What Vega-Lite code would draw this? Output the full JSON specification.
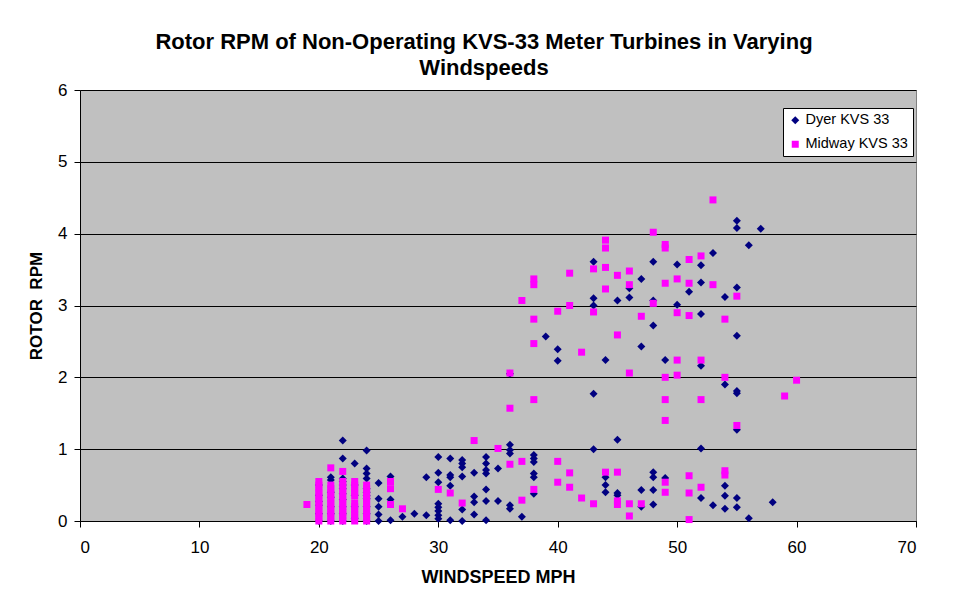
{
  "$schema": "https://vega.github.io/schema/vega-lite/v6.json",
  "autosize": "none",
  "width": 836,
  "height": 431,
  "padding": {"left": 80, "top": 90, "right": 58, "bottom": 87},
  "background": "white",
  "title": {
    "text": ["Rotor RPM of Non-Operating KVS-33 Meter Turbines in Varying", "Windspeeds"],
    "font": "Liberation Sans",
    "fontSize": 22,
    "fontWeight": "bold",
    "color": "black",
    "anchor": "middle",
    "dx": -14,
    "offset": 1,
    "lineHeight": 26
  },
  "config": {
    "view": {"fill": "#C0C0C0", "stroke": "#808080", "strokeWidth": 1},
    "axis": {
      "labelFont": "Liberation Sans",
      "labelFontSize": 17,
      "labelColor": "black",
      "titleFont": "Liberation Sans",
      "titleFontSize": 17,
      "titleFontWeight": "bold",
      "titleColor": "black",
      "domainColor": "black",
      "tickColor": "black",
      "tickSize": 6
    }
  },
  "data": {
    "values": [
      {"s":"D","x":20,"y":0.0},{"s":"D","x":20,"y":0.1},{"s":"D","x":20,"y":0.22},{"s":"D","x":20,"y":0.27},{"s":"D","x":20,"y":0.36},{"s":"D","x":20,"y":0.5},
      {"s":"D","x":21,"y":0.0},{"s":"D","x":21,"y":0.1},{"s":"D","x":21,"y":0.2},{"s":"D","x":21,"y":0.33},{"s":"D","x":21,"y":0.4},{"s":"D","x":21,"y":0.57},{"s":"D","x":21,"y":0.61},
      {"s":"D","x":22,"y":0.0},{"s":"D","x":22,"y":0.1},{"s":"D","x":22,"y":0.2},{"s":"D","x":22,"y":0.3},{"s":"D","x":22,"y":0.38},{"s":"D","x":22,"y":0.45},{"s":"D","x":22,"y":0.5},{"s":"D","x":22,"y":0.55},{"s":"D","x":22,"y":0.59},{"s":"D","x":22,"y":0.87},{"s":"D","x":22,"y":1.12},
      {"s":"D","x":23,"y":0.04},{"s":"D","x":23,"y":0.2},{"s":"D","x":23,"y":0.36},{"s":"D","x":23,"y":0.5},{"s":"D","x":23,"y":0.8},
      {"s":"D","x":24,"y":0.0},{"s":"D","x":24,"y":0.1},{"s":"D","x":24,"y":0.2},{"s":"D","x":24,"y":0.31},{"s":"D","x":24,"y":0.35},{"s":"D","x":24,"y":0.4},{"s":"D","x":24,"y":0.45},{"s":"D","x":24,"y":0.59},{"s":"D","x":24,"y":0.66},{"s":"D","x":24,"y":0.73},{"s":"D","x":24,"y":0.98},
      {"s":"D","x":25,"y":0.0},{"s":"D","x":25,"y":0.09},{"s":"D","x":25,"y":0.2},{"s":"D","x":25,"y":0.31},{"s":"D","x":25,"y":0.53},
      {"s":"D","x":26,"y":0.01},{"s":"D","x":26,"y":0.3},{"s":"D","x":26,"y":0.62},
      {"s":"D","x":27,"y":0.06},{"s":"D","x":28,"y":0.1},
      {"s":"D","x":29,"y":0.08},{"s":"D","x":29,"y":0.61},
      {"s":"D","x":30,"y":0.03},{"s":"D","x":30,"y":0.08},{"s":"D","x":30,"y":0.14},{"s":"D","x":30,"y":0.19},{"s":"D","x":30,"y":0.24},{"s":"D","x":30,"y":0.54},{"s":"D","x":30,"y":0.67},{"s":"D","x":30,"y":0.89},
      {"s":"D","x":31,"y":0.01},{"s":"D","x":31,"y":0.49},{"s":"D","x":31,"y":0.61},{"s":"D","x":31,"y":0.64},{"s":"D","x":31,"y":0.87},
      {"s":"D","x":32,"y":0.0},{"s":"D","x":32,"y":0.16},{"s":"D","x":32,"y":0.62},{"s":"D","x":32,"y":0.75},{"s":"D","x":32,"y":0.8},{"s":"D","x":32,"y":0.85},
      {"s":"D","x":33,"y":0.09},{"s":"D","x":33,"y":0.26},{"s":"D","x":33,"y":0.34},{"s":"D","x":33,"y":0.67},
      {"s":"D","x":34,"y":0.01},{"s":"D","x":34,"y":0.28},{"s":"D","x":34,"y":0.44},{"s":"D","x":34,"y":0.66},{"s":"D","x":34,"y":0.71},{"s":"D","x":34,"y":0.8},{"s":"D","x":34,"y":0.89},
      {"s":"D","x":35,"y":0.28},{"s":"D","x":35,"y":0.73},
      {"s":"D","x":36,"y":0.17},{"s":"D","x":36,"y":0.22},{"s":"D","x":36,"y":0.94},{"s":"D","x":36,"y":0.99},{"s":"D","x":36,"y":1.06},{"s":"D","x":36,"y":2.05},
      {"s":"D","x":37,"y":0.06},
      {"s":"D","x":38,"y":0.38},{"s":"D","x":38,"y":0.61},{"s":"D","x":38,"y":0.66},{"s":"D","x":38,"y":0.82},{"s":"D","x":38,"y":0.87},{"s":"D","x":38,"y":0.92},
      {"s":"D","x":39,"y":2.57},
      {"s":"D","x":40,"y":2.23},{"s":"D","x":40,"y":2.39},
      {"s":"D","x":43,"y":1.0},{"s":"D","x":43,"y":1.77},{"s":"D","x":43,"y":3.0},{"s":"D","x":43,"y":3.1},{"s":"D","x":43,"y":3.61},
      {"s":"D","x":44,"y":0.4},{"s":"D","x":44,"y":0.5},{"s":"D","x":44,"y":0.61},{"s":"D","x":44,"y":2.24},
      {"s":"D","x":45,"y":0.36},{"s":"D","x":45,"y":0.39},{"s":"D","x":45,"y":1.13},{"s":"D","x":45,"y":3.07},
      {"s":"D","x":46,"y":3.11},{"s":"D","x":46,"y":3.24},
      {"s":"D","x":47,"y":0.2},{"s":"D","x":47,"y":0.43},{"s":"D","x":47,"y":2.43},{"s":"D","x":47,"y":3.37},
      {"s":"D","x":48,"y":0.23},{"s":"D","x":48,"y":0.43},{"s":"D","x":48,"y":0.61},{"s":"D","x":48,"y":0.68},{"s":"D","x":48,"y":2.72},{"s":"D","x":48,"y":3.07},{"s":"D","x":48,"y":3.61},
      {"s":"D","x":49,"y":0.6},{"s":"D","x":49,"y":2.24},
      {"s":"D","x":50,"y":3.01},{"s":"D","x":50,"y":3.57},
      {"s":"D","x":51,"y":3.19},
      {"s":"D","x":52,"y":0.32},{"s":"D","x":52,"y":1.01},{"s":"D","x":52,"y":2.16},{"s":"D","x":52,"y":2.88},{"s":"D","x":52,"y":3.32},{"s":"D","x":52,"y":3.56},
      {"s":"D","x":53,"y":0.22},{"s":"D","x":53,"y":3.73},
      {"s":"D","x":54,"y":0.17},{"s":"D","x":54,"y":0.35},{"s":"D","x":54,"y":0.49},{"s":"D","x":54,"y":1.9},{"s":"D","x":54,"y":3.12},
      {"s":"D","x":55,"y":0.19},{"s":"D","x":55,"y":0.32},{"s":"D","x":55,"y":1.27},{"s":"D","x":55,"y":1.78},{"s":"D","x":55,"y":1.81},{"s":"D","x":55,"y":2.58},{"s":"D","x":55,"y":3.25},{"s":"D","x":55,"y":4.08},{"s":"D","x":55,"y":4.18},
      {"s":"D","x":56,"y":0.04},{"s":"D","x":56,"y":3.84},
      {"s":"D","x":57,"y":4.07},
      {"s":"D","x":58,"y":0.26},

      {"s":"M","x":19,"y":0.23},
      {"s":"M","x":20,"y":0.0},{"s":"M","x":20,"y":0.05},{"s":"M","x":20,"y":0.1},{"s":"M","x":20,"y":0.15},{"s":"M","x":20,"y":0.2},{"s":"M","x":20,"y":0.25},{"s":"M","x":20,"y":0.3},{"s":"M","x":20,"y":0.35},{"s":"M","x":20,"y":0.4},{"s":"M","x":20,"y":0.45},{"s":"M","x":20,"y":0.5},{"s":"M","x":20,"y":0.55},
      {"s":"M","x":21,"y":0.0},{"s":"M","x":21,"y":0.05},{"s":"M","x":21,"y":0.1},{"s":"M","x":21,"y":0.15},{"s":"M","x":21,"y":0.2},{"s":"M","x":21,"y":0.25},{"s":"M","x":21,"y":0.3},{"s":"M","x":21,"y":0.35},{"s":"M","x":21,"y":0.4},{"s":"M","x":21,"y":0.45},{"s":"M","x":21,"y":0.5},{"s":"M","x":21,"y":0.74},
      {"s":"M","x":22,"y":0.0},{"s":"M","x":22,"y":0.04},{"s":"M","x":22,"y":0.08},{"s":"M","x":22,"y":0.12},{"s":"M","x":22,"y":0.16},{"s":"M","x":22,"y":0.2},{"s":"M","x":22,"y":0.25},{"s":"M","x":22,"y":0.3},{"s":"M","x":22,"y":0.35},{"s":"M","x":22,"y":0.4},{"s":"M","x":22,"y":0.45},{"s":"M","x":22,"y":0.5},{"s":"M","x":22,"y":0.55},{"s":"M","x":22,"y":0.69},
      {"s":"M","x":23,"y":0.0},{"s":"M","x":23,"y":0.05},{"s":"M","x":23,"y":0.1},{"s":"M","x":23,"y":0.15},{"s":"M","x":23,"y":0.2},{"s":"M","x":23,"y":0.25},{"s":"M","x":23,"y":0.35},{"s":"M","x":23,"y":0.4},{"s":"M","x":23,"y":0.45},{"s":"M","x":23,"y":0.5},{"s":"M","x":23,"y":0.55},
      {"s":"M","x":24,"y":0.0},{"s":"M","x":24,"y":0.05},{"s":"M","x":24,"y":0.1},{"s":"M","x":24,"y":0.15},{"s":"M","x":24,"y":0.2},{"s":"M","x":24,"y":0.25},{"s":"M","x":24,"y":0.3},{"s":"M","x":24,"y":0.35},{"s":"M","x":24,"y":0.4},{"s":"M","x":24,"y":0.45},{"s":"M","x":24,"y":0.5},
      {"s":"M","x":26,"y":0.23},{"s":"M","x":26,"y":0.45},{"s":"M","x":26,"y":0.55},
      {"s":"M","x":27,"y":0.17},
      {"s":"M","x":30,"y":0.44},{"s":"M","x":31,"y":0.39},{"s":"M","x":32,"y":0.25},{"s":"M","x":33,"y":1.12},{"s":"M","x":35,"y":1.01},
      {"s":"M","x":36,"y":0.79},{"s":"M","x":36,"y":1.57},{"s":"M","x":36,"y":2.06},
      {"s":"M","x":37,"y":0.29},{"s":"M","x":37,"y":0.83},{"s":"M","x":37,"y":3.07},
      {"s":"M","x":38,"y":0.44},{"s":"M","x":38,"y":1.69},{"s":"M","x":38,"y":2.47},{"s":"M","x":38,"y":2.81},{"s":"M","x":38,"y":3.29},{"s":"M","x":38,"y":3.37},
      {"s":"M","x":40,"y":0.54},{"s":"M","x":40,"y":0.83},{"s":"M","x":40,"y":2.92},
      {"s":"M","x":41,"y":0.47},{"s":"M","x":41,"y":0.67},{"s":"M","x":41,"y":3.0},{"s":"M","x":41,"y":3.45},
      {"s":"M","x":42,"y":0.32},{"s":"M","x":42,"y":2.35},
      {"s":"M","x":43,"y":0.24},{"s":"M","x":43,"y":2.91},{"s":"M","x":43,"y":3.51},
      {"s":"M","x":44,"y":0.68},{"s":"M","x":44,"y":3.23},{"s":"M","x":44,"y":3.53},{"s":"M","x":44,"y":3.8},{"s":"M","x":44,"y":3.91},
      {"s":"M","x":45,"y":0.23},{"s":"M","x":45,"y":0.28},{"s":"M","x":45,"y":0.68},{"s":"M","x":45,"y":2.59},{"s":"M","x":45,"y":3.42},
      {"s":"M","x":46,"y":0.07},{"s":"M","x":46,"y":0.24},{"s":"M","x":46,"y":2.06},{"s":"M","x":46,"y":3.29},{"s":"M","x":46,"y":3.48},
      {"s":"M","x":47,"y":0.24},{"s":"M","x":47,"y":2.85},
      {"s":"M","x":48,"y":3.03},{"s":"M","x":48,"y":4.02},
      {"s":"M","x":49,"y":0.4},{"s":"M","x":49,"y":0.54},{"s":"M","x":49,"y":1.4},{"s":"M","x":49,"y":1.69},{"s":"M","x":49,"y":2.0},{"s":"M","x":49,"y":3.31},{"s":"M","x":49,"y":3.8},{"s":"M","x":49,"y":3.85},
      {"s":"M","x":50,"y":2.03},{"s":"M","x":50,"y":2.24},{"s":"M","x":50,"y":2.9},{"s":"M","x":50,"y":3.37},
      {"s":"M","x":51,"y":0.02},{"s":"M","x":51,"y":0.39},{"s":"M","x":51,"y":0.63},{"s":"M","x":51,"y":2.86},{"s":"M","x":51,"y":3.31},{"s":"M","x":51,"y":3.64},
      {"s":"M","x":52,"y":0.47},{"s":"M","x":52,"y":1.69},{"s":"M","x":52,"y":2.24},{"s":"M","x":52,"y":3.69},
      {"s":"M","x":53,"y":3.29},{"s":"M","x":53,"y":4.47},
      {"s":"M","x":54,"y":0.64},{"s":"M","x":54,"y":0.7},{"s":"M","x":54,"y":2.0},{"s":"M","x":54,"y":2.81},
      {"s":"M","x":55,"y":1.33},{"s":"M","x":55,"y":3.13},
      {"s":"M","x":59,"y":1.74},{"s":"M","x":60,"y":1.96}
    ]
  },
  "mark": {"type": "point", "filled": true, "opacity": 1, "strokeWidth": 0},
  "encoding": {
    "x": {
      "field": "x", "type": "quantitative",
      "scale": {"domain": [0, 70], "nice": false, "zero": false},
      "axis": {"values": [0, 10, 20, 30, 40, 50, 60, 70], "grid": false, "title": "WINDSPEED MPH", "titleFontSize": 18, "labelPadding": 12, "titlePadding": 13}
    },
    "y": {
      "field": "y", "type": "quantitative",
      "scale": {"domain": [0, 6], "nice": false},
      "axis": {"values": [0, 1, 2, 3, 4, 5, 6], "grid": true, "gridColor": "black", "gridOpacity": 1, "gridWidth": 1, "title": "ROTOR \u00a0RPM", "labelPadding": 7, "titlePadding": 12}
    },
    "color": {
      "field": "s", "type": "nominal",
      "scale": {"domain": ["D", "M"], "range": ["#000080", "#FF00FF"]},
      "legend": {
        "title": null,
        "orient": "none",
        "legendX": 703,
        "legendY": 18,
        "labelExpr": "datum.label == 'D' ? 'Dyer KVS 33' : 'Midway KVS 33'",
        "labelFont": "Liberation Sans",
        "labelFontSize": 14.5,
        "labelColor": "black",
        "fillColor": "white",
        "strokeColor": "black",
        "padding": 5,
        "rowPadding": 9,
        "symbolSize": 40,
        "symbolOffset": 0,
        "labelOffset": 3
      }
    },
    "shape": {
      "field": "s", "type": "nominal",
      "scale": {"domain": ["D", "M"], "range": ["diamond", "square"]},
      "legend": null
    },
    "size": {
      "field": "s", "type": "nominal",
      "scale": {"domain": ["D", "M"], "range": [64, 49]},
      "legend": null
    }
  }
}
